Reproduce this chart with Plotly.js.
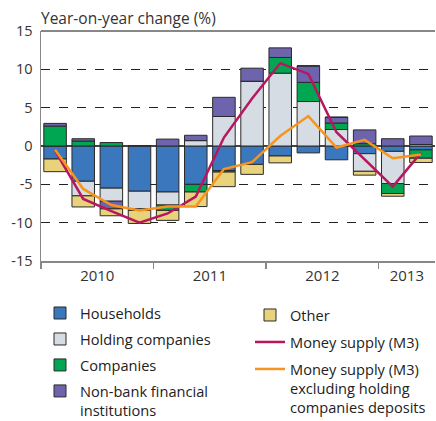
<!DOCTYPE html>
<html>
<head>
<meta charset="utf-8">
<script src="https://cdn.plot.ly/plotly-3.0.1.min.js"></script>
<style>
  html, body { margin: 0; padding: 0; background: #fff; }
  #chart { width: 436px; height: 421px; }
</style>
</head>
<body>
<div id="chart"></div>
<script>
// Quarters 2010 Q1 .. 2013 Q2
const quarters = ['2010 Q1','2010 Q2','2010 Q3','2010 Q4','2011 Q1','2011 Q2','2011 Q3','2011 Q4',
                  '2012 Q1','2012 Q2','2012 Q3','2012 Q4','2013 Q1','2013 Q2'];
const households = [-1.7, -4.6, -5.5, -5.9, -6.0, -5.0, -3.2, -2.4, -1.3, -0.9, -1.8, -1.0, -0.7, -0.5];
const holding    = [0.0, -1.9, -1.7, -2.3, -1.7, 0.7, 3.85, 8.45, 9.5, 5.8, 2.15, -2.3, -4.2, 0.2];
const companies  = [2.6, 0.65, 0.45, -0.2, -0.7, -1.0, -0.2, 0.0, 2.05, 2.5, 0.85, 0.3, -1.3, -1.1];
const nbfi       = [0.35, 0.3, -1.0, 0.0, 0.9, 0.7, 2.5, 1.7, 1.25, 2.15, 0.75, 1.8, 0.95, 1.1];
const other      = [-1.65, -1.45, -0.9, -1.7, -1.3, -1.9, -1.9, -1.3, -0.9, 0.0, 0.0, -0.5, -0.35, -0.55];
const m3         = [-0.6, -6.9, -8.5, -10.0, -8.8, -6.6, 1.1, 6.2, 10.8, 9.4, 1.8, -1.7, -5.3, -0.9];
const m3ExHolding= [-0.5, -5.6, -7.7, -8.4, -7.9, -7.9, -3.0, -2.1, 1.3, 3.9, -0.2, 0.8, -1.6, -1.1];
const yearLabels = ['2010', '2011', '2012', '2013'];
const yearCenters = [1.5, 5.5, 9.5, 12.5];
const yearBounds = [-0.5, 3.5, 7.5, 11.5];
const yTickVals = [-15, -10, -5, 0, 5, 10, 15];
const yTickText = ['-15', '-10', '-5', '0', '5', '10', '15'];

const x = quarters.map((_, i) => i);
const FONT = '"Open Sans", "DejaVu Sans", sans-serif';
const barLine = { color: '#2a2a2a', width: 1 };

function bar(name, y, color, legend, rank) {
  return { type: 'bar', name: name, x: x, y: y, width: 0.8,
    marker: { color: color, line: barLine },
    legend: legend, legendgroup: name, legendrank: rank, hoverinfo: 'skip' };
}

const traces = [
  bar('Households', households, '#3a77bd', 'legend', 1),
  bar('Holding companies', holding, '#d6dce3', 'legend', 2),
  bar('Companies', companies, '#00a651', 'legend', 3),
  bar('Non-bank financial<br>institutions', nbfi, '#6e64ae', 'legend', 4),
  bar('Other', other, '#e8d27c', 'legend2', 5),
  { type: 'scatter', mode: 'lines', name: 'Money supply (M3)', x: x, y: m3,
    line: { color: '#b8175f', width: 2.5 }, legend: 'legend2', legendgroup: 'm3', legendrank: 6 },
  { type: 'scatter', mode: 'lines', name: 'Money supply (M3)<br>excluding holding<br>companies deposits',
    x: x, y: m3ExHolding, line: { color: '#f7941d', width: 2.5 }, legend: 'legend2', legendgroup: 'm3x', legendrank: 7 }
];

const legendBase = {
  xref: 'container', yref: 'container', yanchor: 'top', xanchor: 'left',
  orientation: 'v', traceorder: 'grouped', tracegroupgap: 5, valign: 'top',
  font: { family: FONT, size: 14.6, color: '#222' }, bgcolor: 'rgba(0,0,0,0)', borderwidth: 0
};

const layout = {
  width: 436, height: 421,
  margin: { l: 41, r: 1, t: 31, b: 160, autoexpand: false },
  paper_bgcolor: '#fff', plot_bgcolor: '#fff',
  font: { family: FONT, size: 14, color: '#333' },
  barmode: 'relative',
  showlegend: true,
  title: { text: 'Year-on-year change (%)', x: 0, xref: 'paper', xanchor: 'left',
           y: 1 - 19 / 421, yanchor: 'middle', font: { family: FONT, size: 15.5, color: '#333' } },
  xaxis: {
    range: [-0.5, 13.5], showgrid: false, zeroline: false,
    showline: true, linecolor: '#888', linewidth: 1.5,
    tickmode: 'array', tickvals: yearCenters, ticktext: yearLabels, ticks: '',
    tickfont: { family: FONT, size: 15, color: '#333' },
    minor: { tickmode: 'array', tickvals: yearBounds, ticks: 'outside', ticklen: 6,
             tickwidth: 1.5, tickcolor: '#888', showgrid: false },
    automargin: false, fixedrange: true
  },
  yaxis: {
    range: [-15, 15], tickmode: 'array', tickvals: yTickVals, ticktext: yTickText,
    showgrid: true, gridcolor: '#222', gridwidth: 1, griddash: 'dash',
    zeroline: true, zerolinecolor: '#444', zerolinewidth: 1.5,
    showline: true, linecolor: '#888', linewidth: 1.5,
    ticks: '', ticklabelstandoff: 4,
    tickfont: { family: FONT, size: 14.5, color: '#333' },
    automargin: false, fixedrange: true
  },
  shapes: [
    { type: 'line', xref: 'paper', yref: 'paper', x0: 0, x1: 1, y0: 1, y1: 1,
      line: { color: '#111', width: 1 } }
  ],
  legend: Object.assign({}, legendBase, { x: 40 / 436, y: 1 - 297 / 421, tracegroupgap: 4 }),
  legend2: Object.assign({}, legendBase, { x: 250 / 436, y: 1 - 299 / 421 })
};

Plotly.newPlot('chart', traces, layout, { staticPlot: true, displayModeBar: false });
</script>
</body>
</html>
